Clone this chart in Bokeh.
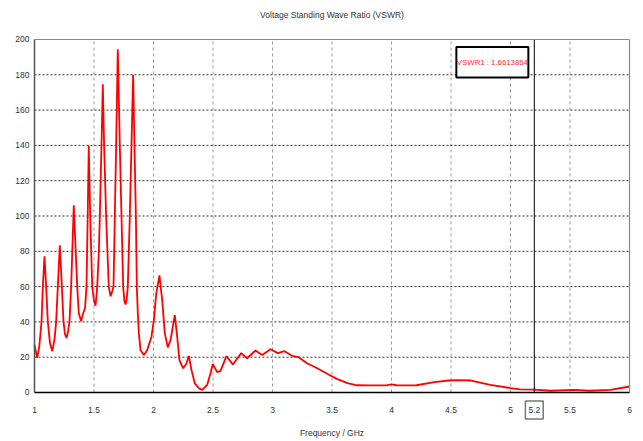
from bokeh.plotting import figure
from bokeh.models import Label, BoxAnnotation, Range1d
from bokeh.core.properties import value
from bokeh.embed import file_html
from bokeh.resources import INLINE

# ---- data ----
freq_ghz = [1.000, 1.022, 1.040, 1.059, 1.070, 1.084, 1.098, 1.112, 1.130, 1.149,
            1.168, 1.182, 1.196, 1.213, 1.230, 1.244, 1.256, 1.269, 1.283, 1.294,
            1.308, 1.330, 1.359, 1.372, 1.392, 1.405, 1.425, 1.437, 1.447, 1.456,
            1.468, 1.485, 1.500, 1.513, 1.527, 1.541, 1.549, 1.563, 1.574, 1.585,
            1.602, 1.613, 1.624, 1.639, 1.652, 1.664, 1.675, 1.686, 1.700, 1.717,
            1.731, 1.745, 1.755, 1.765, 1.775, 1.784, 1.801, 1.815, 1.829, 1.840,
            1.852, 1.860, 1.868, 1.877, 1.891, 1.919, 1.947, 1.983, 2.003, 2.023,
            2.050, 2.073, 2.095, 2.120, 2.143, 2.179, 2.199, 2.218, 2.249, 2.275,
            2.297, 2.319, 2.347, 2.381, 2.409, 2.451, 2.479, 2.498, 2.535, 2.563,
            2.613, 2.667, 2.737, 2.787, 2.857, 2.913, 2.983, 3.045, 3.100, 3.165,
            3.220, 3.290, 3.360, 3.460, 3.540, 3.630, 3.710, 3.800, 3.900, 3.960,
            4.000, 4.040, 4.100, 4.210, 4.360, 4.480, 4.570, 4.660, 4.830, 5.000,
            5.080, 5.200, 5.340, 5.530, 5.670, 5.840, 6.000]
vswr = [27.0, 19.6, 26.0, 40.0, 60.0, 77.2, 60.0, 40.0, 28.0, 23.4,
        30.0, 40.0, 60.0, 83.4, 60.0, 40.0, 33.0, 30.9, 35.0, 40.0,
        60.0, 106.0, 60.0, 45.0, 40.3, 44.0, 48.0, 60.0, 100.0, 140.0,
        100.0, 60.0, 52.0, 49.2, 60.0, 80.0, 100.0, 140.0, 174.7, 140.0,
        100.0, 80.0, 60.0, 54.5, 57.0, 60.0, 100.0, 140.0, 194.5, 140.0,
        100.0, 60.0, 52.0, 49.8, 53.0, 60.0, 100.0, 140.0, 180.0, 140.0,
        100.0, 60.0, 45.0, 33.5, 24.0, 21.2, 24.0, 31.6, 41.0, 56.0,
        66.4, 52.3, 33.5, 25.6, 29.7, 43.8, 31.6, 18.4, 13.7, 16.2,
        20.7, 12.8, 5.2, 2.4, 1.5, 4.3, 10.9, 16.2, 11.5, 12.2,
        20.6, 15.9, 22.3, 19.4, 23.8, 21.3, 24.5, 22.3, 23.4, 20.8,
        20.0, 16.6, 14.3, 10.6, 7.7, 5.3, 4.1, 4.0, 4.0, 4.0,
        4.6, 4.1, 4.0, 4.1, 5.9, 6.8, 7.0, 6.8, 4.3, 2.5,
        1.8, 1.66, 1.0, 1.5, 1.0, 1.5, 3.4]

x_ticks = [1, 1.5, 2, 2.5, 3, 3.5, 4, 4.5, 5, 5.5, 6]
x_tick_labels = ["1", "1.5", "2", "2.5", "3", "3.5", "4", "4.5", "5", "5.5", "6"]
y_ticks = [0, 20, 40, 60, 80, 100, 120, 140, 160, 180, 200]
y_tick_labels = [str(t) for t in y_ticks]
x_min, x_max = 1, 6
y_min, y_max = 0, 200

marker_freq = 5.2
marker_freq_label = "5.2"
marker_text = "VSWR1 : 1.6613864"
title_text = "Voltage Standing Wave Ratio (VSWR)"
x_label = "Frequency / GHz"

FONT = "Liberation Sans"
TXT = "#333333"

# The plotting frame covers the whole canvas; the data area (1..6 GHz, 0..200)
# sits inside it, so every label and border is drawn in data space.
p = figure(width=643, height=441, output_backend="svg", toolbar_location=None,
           x_axis_type=None, y_axis_type=None,
           x_range=Range1d(0.7311, 6.1008), y_range=Range1d(-27.2, 219.26),
           min_border_left=2, min_border_right=2, min_border_top=5,
           min_border_bottom=1, background_fill_color="white",
           border_fill_color="white")
p.outline_line_color = None

# grids
inner_x = x_ticks[1:-1]
p.segment(x0=inner_x, x1=inner_x, y0=y_min, y1=y_max, line_color="#9a9a9a",
          line_dash="3 3", line_width=1)
inner_y = y_ticks[1:-1]
p.segment(x0=x_min, x1=x_max, y0=inner_y, y1=inner_y, line_color="#333333",
          line_dash="2 2", line_width=1)

# curve
p.line(freq_ghz, vswr, line_color="#ff0000", line_width=1.8)

# marker line
p.segment(x0=[marker_freq], x1=[marker_freq], y0=y_min, y1=y_max,
          line_color="black", line_width=1)

# frame: grey top/right, dark left axis, black bottom axis
p.segment(x0=[x_min, x_max], x1=[x_max, x_max], y0=[y_max, y_min],
          y1=[y_max, y_max], line_color="#8a8a8a", line_width=1.2)
p.segment(x0=[x_min], x1=[x_min], y0=[y_min], y1=[y_max],
          line_color="#555555", line_width=1.5)
p.segment(x0=[x_min], x1=[x_max], y0=[y_min], y1=[y_min],
          line_color="black", line_width=1.5)

# tick labels
p.text(x=x_ticks, y=-9.9, text=x_tick_labels, text_align="center",
       text_baseline="middle", text_color=TXT, text_font=value(FONT),
       text_font_size="8.5px")
p.text(x=0.958, y=y_ticks, text=y_tick_labels, text_align="right",
       text_baseline="middle", text_color=TXT, text_font=value(FONT),
       text_font_size="8.5px")

# axis title and chart title
p.text(x=[(x_min + x_max) / 2], y=-22.7, text=[x_label], text_align="center",
       text_baseline="middle", text_color=TXT, text_font=value(FONT),
       text_font_size="8.5px")
p.text(x=[(x_min + x_max) / 2], y=213.6, text=[title_text], text_align="center",
       text_baseline="middle", text_color=TXT, text_font=value(FONT),
       text_font_size="8.5px")

# marker readout box
p.add_layout(BoxAnnotation(left=4.545, right=5.15, top=195.8, bottom=178.5,
                           fill_color="white", fill_alpha=1.0,
                           line_color="black", line_alpha=1.0, line_width=2))
p.add_layout(Label(x=4.848, y=186.9, text=marker_text, text_align="center",
                   text_baseline="middle", text_color="#ff2a2a",
                   text_font=FONT, text_font_size="7.8px"))

# boxed marker tick label
p.add_layout(Label(x=marker_freq, y=-9.9, text=marker_freq_label,
                   text_align="center", text_baseline="middle",
                   text_color=TXT, text_font=FONT, text_font_size="8.5px",
                   border_line_color="#777777", border_line_width=1.5,
                   background_fill_color="white", padding=(3, 6)))

open("out.html", "w").write(file_html(p, INLINE))
